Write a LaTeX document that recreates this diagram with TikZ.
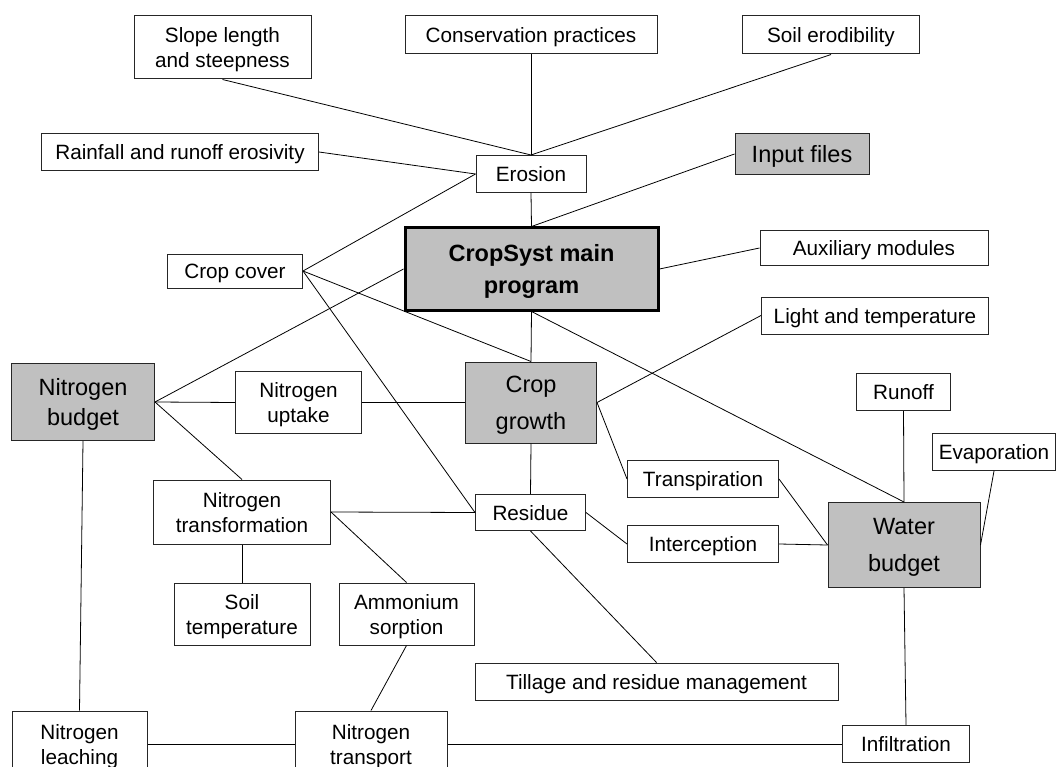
\documentclass[tikz,border=0pt]{standalone}
\usepackage{fontspec}
\setmainfont{Liberation Sans}
\definecolor{boxgray}{RGB}{192,192,192}
\begin{document}
\begin{tikzpicture}[x=1pt,y=-1pt,
  box/.style={draw=black!85, line width=1pt, fill=white, inner sep=0pt, align=center,
    text depth=0pt, font=\fontsize{20.7}{25}\selectfont},
  gbox/.style={box, fill=boxgray, font=\fontsize{23.5}{30}\selectfont},
  mainbox/.style={box, fill=boxgray, draw=black, line width=3pt, text depth=-6pt,
    font=\fontsize{23.5}{32}\selectfont\bfseries},
  conn/.style={draw=black, line width=0.8pt}]
\useasboundingbox (0,0) rectangle (1059,767);
\clip (0,0) rectangle (1059,767);
% nodes
\node[box, minimum width=177pt, minimum height=63pt] (slope) at (222.5,47.5) {Slope length\\and steepness};
\node[box, minimum width=252pt, minimum height=38pt] (cons) at (531,35) {Conservation practices};
\node[box, minimum width=177pt, minimum height=38pt] (soilero) at (831,35) {Soil erodibility};
\node[box, minimum width=277pt, minimum height=37pt] (rain) at (180,152) {Rainfall and runoff erosivity};
\node[box, minimum width=110pt, minimum height=37pt] (erosion) at (531,174) {Erosion};
\node[gbox, minimum width=134pt, minimum height=41pt, text depth=-1.5pt] (input) at (802,154) {Input files};
\node[mainbox, minimum width=253pt, minimum height=82pt] (main) at (531.5,269) {CropSyst main\\program};
\node[box, minimum width=228pt, minimum height=34pt] (aux) at (874,248) {Auxiliary modules};
\node[box, minimum width=135pt, minimum height=34pt] (cropcover) at (235,271) {Crop cover};
\node[box, minimum width=227pt, minimum height=37pt] (light) at (875,315.5) {Light and temperature};
\node[gbox, minimum width=143pt, minimum height=77pt, text depth=-3pt] (nbudget) at (83,402) {Nitrogen\\budget};
\node[box, minimum width=126pt, minimum height=62pt] (nuptake) at (298.5,402.5) {Nitrogen\\uptake};
\node[gbox, minimum width=131pt, minimum height=81pt, text depth=-8pt, font=\fontsize{23.5}{37}\selectfont] (cropgrowth) at (531,402.5) {Crop\\growth};
\node[box, minimum width=94pt, minimum height=37pt] (runoff) at (903.5,392) {Runoff};
\node[box, minimum width=123pt, minimum height=37pt] (evap) at (994,452) {Evaporation};
\node[box, minimum width=151pt, minimum height=37pt] (transp) at (703,479) {Transpiration};
\node[box, minimum width=177pt, minimum height=64pt] (ntrans) at (242,512) {Nitrogen\\transformation};
\node[box, minimum width=110pt, minimum height=36pt] (residue) at (530.5,512.5) {Residue};
\node[box, minimum width=151pt, minimum height=37pt] (interc) at (703,544) {Interception};
\node[gbox, minimum width=152pt, minimum height=85pt, text depth=-7pt, font=\fontsize{23.5}{37}\selectfont] (water) at (904,545) {Water\\budget};
\node[box, minimum width=136pt, minimum height=62pt] (soiltemp) at (242,614) {Soil\\temperature};
\node[box, minimum width=135pt, minimum height=62pt] (ammon) at (406.5,614) {Ammonium\\sorption};
\node[box, minimum width=363pt, minimum height=37pt] (tillage) at (656.5,681.5) {Tillage and residue management};
\node[box, minimum width=135pt, minimum height=66pt] (nleach) at (79.5,744) {Nitrogen\\leaching};
\node[box, minimum width=152pt, minimum height=66pt] (ntransport) at (371,744) {Nitrogen\\transport};
\node[box, minimum width=127pt, minimum height=37pt] (infil) at (906,744) {Infiltration};
% connectors
\draw[conn] (slope.south) -- (erosion.north);
\draw[conn] (cons.south) -- (erosion.north);
\draw[conn] (soilero.south) -- (erosion.north);
\draw[conn] (rain.east) -- (erosion.west);
\draw[conn] (cropcover.east) -- (erosion.west);
\draw[conn] (erosion.south) -- (main.north);
\draw[conn] (input.west) -- (main.north);
\draw[conn] (aux.west) -- (main.east);
\draw[conn] (main.west) -- (nbudget.east);
\draw[conn] (cropcover.east) -- (cropgrowth.north);
\draw[conn] (cropcover.east) -- (residue.west);
\draw[conn] (main.south) -- (cropgrowth.north);
\draw[conn] (main.south) -- (water.north);
\draw[conn] (light.west) -- (cropgrowth.east);
\draw[conn] (cropgrowth.east) -- (transp.west);
\draw[conn] (runoff.south) -- (water.north);
\draw[conn] (evap.south) -- (water.east);
\draw[conn] (transp.east) -- (water.west);
\draw[conn] (interc.east) -- (water.west);
\draw[conn] (residue.east) -- (interc.west);
\draw[conn] (residue.south) -- (tillage.north);
\draw[conn] (cropgrowth.south) -- (residue.north);
\draw[conn] (nuptake.east) -- (cropgrowth.west);
\draw[conn] (nbudget.east) -- (nuptake.west);
\draw[conn] (nbudget.east) -- (ntrans.north);
\draw[conn] (ntrans.east) -- (residue.west);
\draw[conn] (ntrans.east) -- (ammon.north);
\draw[conn] (ntrans.south) -- (soiltemp.north);
\draw[conn] (ammon.south) -- (ntransport.north);
\draw[conn] (nbudget.south) -- (nleach.north);
\draw[conn] (nleach.east) -- (ntransport.west);
\draw[conn] (ntransport.east) -- (infil.west);
\draw[conn] (water.south) -- (infil.north);
\end{tikzpicture}
\end{document}
